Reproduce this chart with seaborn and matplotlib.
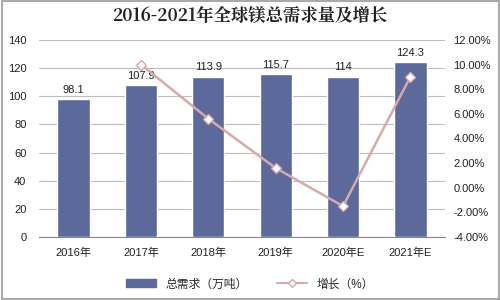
import numpy as np
import pandas as pd
import seaborn as sns
import matplotlib.pyplot as plt
from matplotlib.lines import Line2D
from matplotlib.patches import Patch

years = ['2016年', '2017年', '2018年', '2019年', '2020年E', '2021年E']
demand = [98.1, 107.9, 113.9, 115.7, 114, 124.3]
demand_labels = ['98.1', '107.9', '113.9', '115.7', '114', '124.3']
growth = [np.nan, 10.0, 5.6, 1.6, -1.5, 9.0]

sns.set_theme(style='white')
plt.rcParams['font.family'] = ['Liberation Sans', 'Noto Sans CJK SC', 'DejaVu Sans']

df = pd.DataFrame({'year': years, 'demand': demand, 'growth': growth})

fig = plt.figure(figsize=(5, 3), dpi=100)
ax = fig.add_axes([0.078, 0.21, 0.812, 0.657])
bar_color = '#5b6a9b'
line_color = '#d7a9ab'

sns.barplot(data=df, x='year', y='demand', color=bar_color, width=0.48,
            saturation=1, ax=ax, zorder=2)
ax.set_ylim(0, 140)
ax.set_yticks(range(0, 141, 20))
ax.yaxis.grid(True, color='#bdbdbd', linewidth=0.8, zorder=0)
ax.set_xlabel('')
ax.set_ylabel('')
for s in ['top', 'right', 'left']:
    ax.spines[s].set_visible(False)
ax.spines['bottom'].set_color('#888888')
ax.spines['bottom'].set_linewidth(0.8)
ax.tick_params(axis='y', labelsize=8, colors='#222222', length=0, pad=9)
ax.tick_params(axis='x', labelsize=8, colors='#222222', length=0, pad=8)
for p, lab in zip(ax.patches, demand_labels):
    ax.text(p.get_x() + p.get_width() / 2, p.get_height() + 3, lab,
            ha='center', va='bottom', fontsize=8, color='#222222')

ax2 = ax.twinx()
x = np.arange(len(years))
ax2.plot(x, growth, color=line_color, linewidth=1.8, marker='D',
         markersize=5, markerfacecolor='white', markeredgecolor=line_color,
         markeredgewidth=1, zorder=3)
ax2.set_ylim(-4, 12)
ax2.set_yticks(range(-4, 13, 2))
ax2.set_yticklabels([f'{v:.2f}%' for v in range(-4, 13, 2)])
ax2.tick_params(axis='y', labelsize=8, colors='#222222', length=0, pad=6)
for s in ax2.spines.values():
    s.set_visible(False)
ax2.grid(False)

fig.text(0.5, 0.945, '2016-2021年全球镁总需求量及增长', ha='center', va='center',
         fontsize=12.5, fontweight='bold', color='#222222',
         family=['Noto Serif CJK SC', 'Noto Sans CJK SC', 'DejaVu Serif'])

handles = [Patch(color=bar_color),
           Line2D([], [], color=line_color, marker='D', markersize=4,
                  markerfacecolor='white', linewidth=1.5)]
fig.legend(handles, ['总需求（万吨）', '增长（%）'], loc='center',
           bbox_to_anchor=(0.5, 0.052), ncol=2, frameon=False, fontsize=8.5,
           handlelength=2.5, columnspacing=2.5)

fig.patches.append(plt.Rectangle((0.003, 0.003), 0.994, 0.994,
                                 transform=fig.transFigure, fill=False,
                                 edgecolor='#aaaaaa', linewidth=1.5))
fig.savefig('out.png', dpi=100)
